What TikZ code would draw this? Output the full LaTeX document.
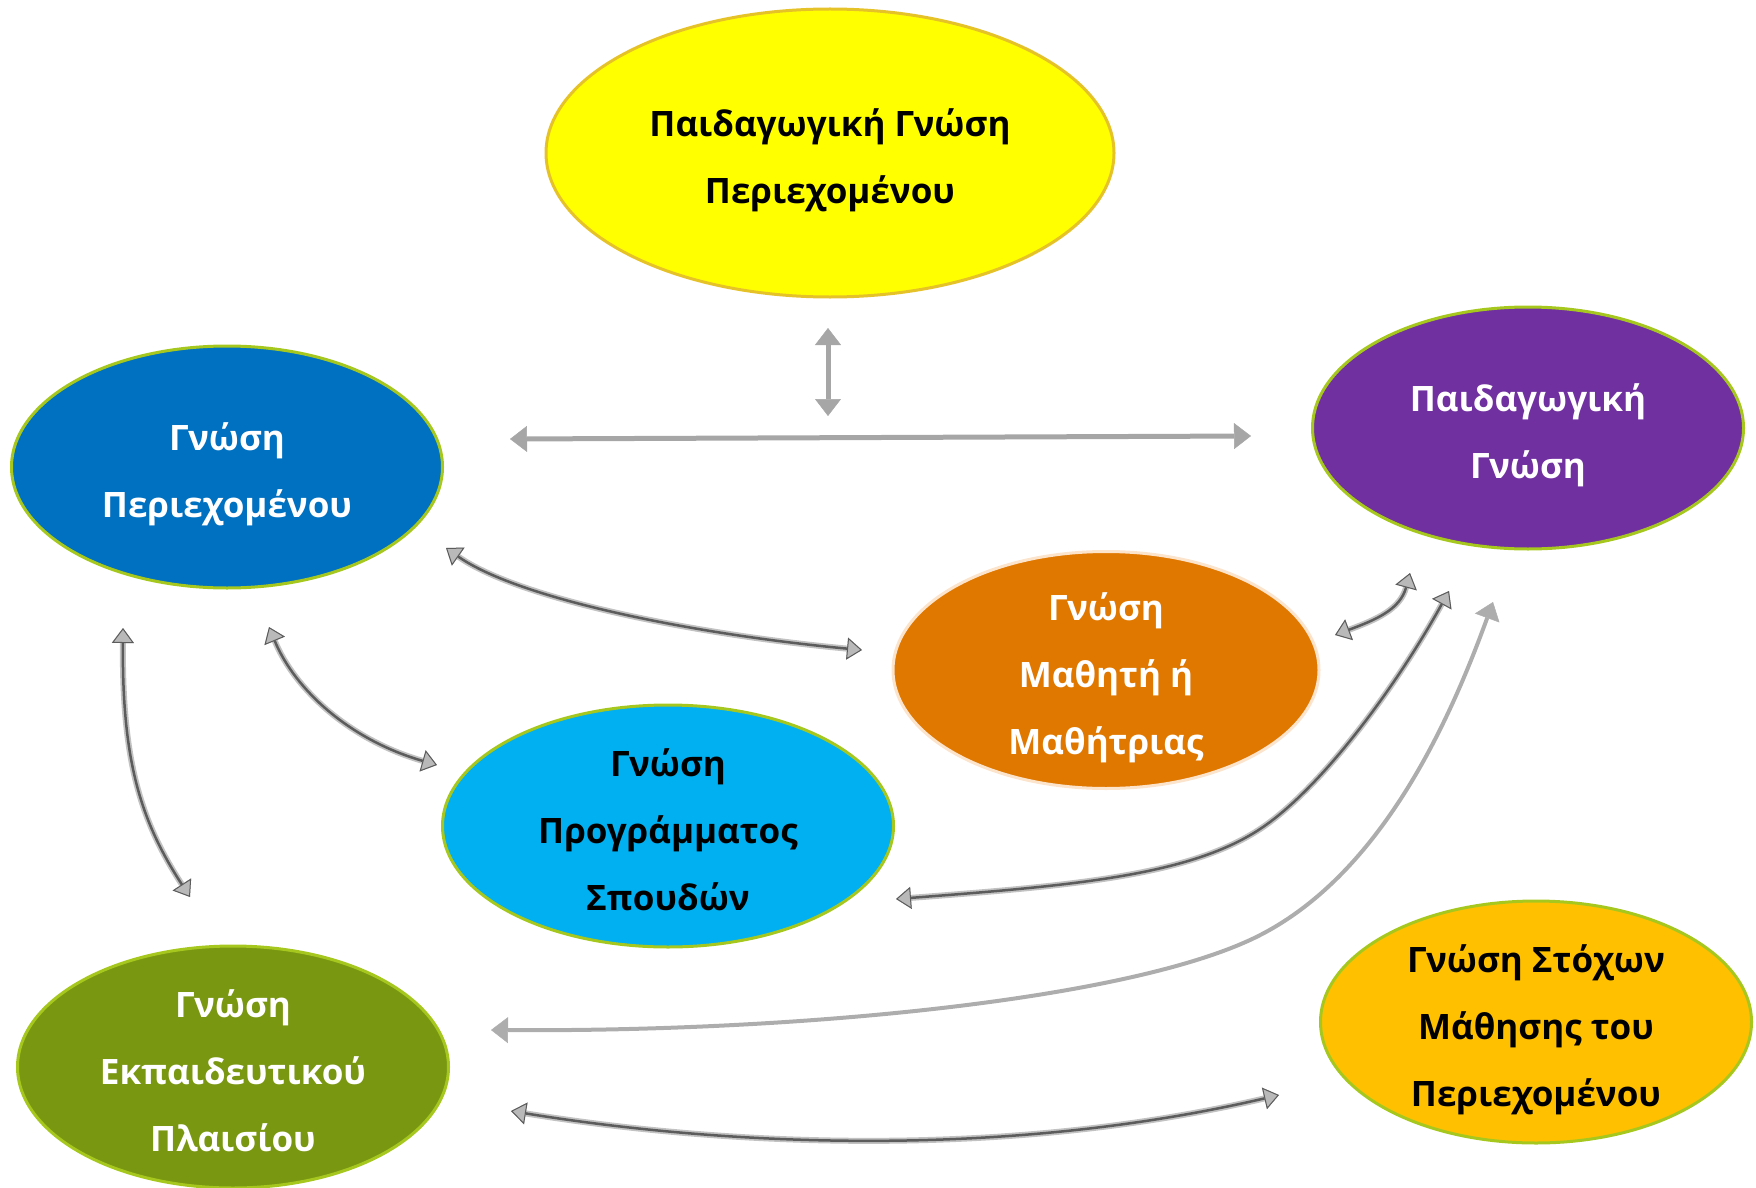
\documentclass[tikz,border=0pt]{standalone}
\usepackage{fontspec}
\setmainfont{Open Sans}
\usepackage{tikz}
\usetikzlibrary{shapes.geometric,arrows.meta}

\definecolor{pckyellow}{HTML}{FFFF00}
\definecolor{pckrim}{HTML}{E6C229}
\definecolor{ckblue}{HTML}{0070C0}
\definecolor{pkpurple}{HTML}{7030A0}
\definecolor{skorange}{HTML}{E07800}
\definecolor{skrim}{HTML}{FBE3CC}
\definecolor{curcyan}{HTML}{00B0F0}
\definecolor{ctxolive}{HTML}{7A9712}
\definecolor{gkgold}{HTML}{FFC000}
\definecolor{rimgreen}{HTML}{A6C81E}
\definecolor{flatgray}{HTML}{A6A6A6}
\definecolor{lightgray}{HTML}{ADADAD}

\newcommand{\kn}[1]{\raisebox{-10pt}[0pt][0pt]{\begin{tabular}{@{}c@{}}#1\end{tabular}}}

\tikzset{
  flattip/.tip={Triangle[length=17pt,width=26pt,line width=0.5pt]},
  shinytip/.tip={Triangle[length=15pt,width=22pt,line width=1pt,fill=gray!55]}
}

\begin{document}
\begin{tikzpicture}[x=1pt,y=-1pt]
\tikzstyle{know}=[ellipse,draw=rimgreen,line width=3pt,inner sep=0pt,minimum width=431pt,minimum height=242pt,font=\fontsize{35}{67}\selectfont\bfseries]
\tikzstyle{flat}=[draw=flatgray,line width=5pt,flattip-flattip]
\tikzstyle{thin}=[draw=lightgray,line width=4pt,flattip-flattip]
\tikzstyle{shiny}=[draw=black!64,line width=2.5pt,shinytip-shinytip,
    preaction={draw=gray!48,line width=6pt,shinytip-shinytip}]
\useasboundingbox (0,0) rectangle (1756,1188);

% the seven kinds of knowledge
\node[know,fill=pckyellow,draw=pckrim,minimum width=568pt,minimum height=288pt] (pck) at (830,153) {\kn{Παιδαγωγική Γνώση\\Περιεχομένου}};
\node[know,fill=ckblue,text=white] (ck) at (227,467) {\kn{Γνώση\\Περιεχομένου}};
\node[know,fill=pkpurple,text=white] (pk) at (1528,428) {\kn{Παιδαγωγική\\Γνώση}};
\node[know,fill=skorange,draw=skrim,text=white,minimum width=426pt,minimum height=237pt] (sk) at (1106,670) {\kn{Γνώση\\Μαθητή ή\\Μαθήτριας}};
\node[know,fill=curcyan,minimum width=451pt] (curk) at (668,826) {\kn{Γνώση\\Προγράμματος\\Σπουδών}};
\node[know,fill=ctxolive,text=white] (ctxk) at (233,1067) {\kn{Γνώση\\Εκπαιδευτικού\\Πλαισίου}};
\node[know,fill=gkgold] (gk) at (1536,1022) {\kn{Γνώση Στόχων\\Μάθησης του\\Περιεχομένου}};

% free ends of the arrows
\coordinate (pck-a) at (828,328);
\coordinate (pck-b) at (828,416);
\coordinate (ck-pk-a) at (510,439);
\coordinate (ck-pk-b) at (1251,436);
\coordinate (ck-sk-a) at (446,548);
\coordinate (ck-sk-b) at (862,650);
\coordinate (ck-cur-a) at (269,627);
\coordinate (ck-cur-b) at (437,765);
\coordinate (ck-ctx-a) at (123,628);
\coordinate (ck-ctx-b) at (190,897);
\coordinate (sk-pk-a) at (1335,635);
\coordinate (sk-pk-b) at (1410,573);
\coordinate (cur-pk-a) at (896,899);
\coordinate (cur-pk-b) at (1449,591);
\coordinate (ctx-pk-a) at (491,1030);
\coordinate (ctx-pk-b) at (1493,602);
\coordinate (ctx-gk-a) at (511,1111);
\coordinate (ctx-gk-b) at (1279,1095);

% arrows
\draw[flat] (pck-a) -- (pck-b);
\draw[flat] (ck-pk-a) -- (ck-pk-b);
\draw[shiny] (ck-sk-a) .. controls (520,600) and (700,635) .. (ck-sk-b);
\draw[shiny] (ck-cur-a) .. controls (295,690) and (350,740) .. (ck-cur-b);
\draw[shiny] (ck-ctx-a) .. controls (122,760) and (140,820) .. (ck-ctx-b);
\draw[shiny] (sk-pk-a) .. controls (1375,620) and (1400,610) .. (sk-pk-b);
\draw[shiny] (cur-pk-a) .. controls (1080,885) and (1200,875) .. (1270,822)
    .. controls (1330,777) and (1400,680) .. (cur-pk-b);
\draw[thin] (ctx-pk-a) .. controls (800,1032) and (1120,1000) .. (1250,940)
    .. controls (1380,880) and (1450,720) .. (ctx-pk-b);
\draw[shiny] (ctx-gk-a) .. controls (720,1145) and (1000,1160) .. (ctx-gk-b);
\end{tikzpicture}
\end{document}
